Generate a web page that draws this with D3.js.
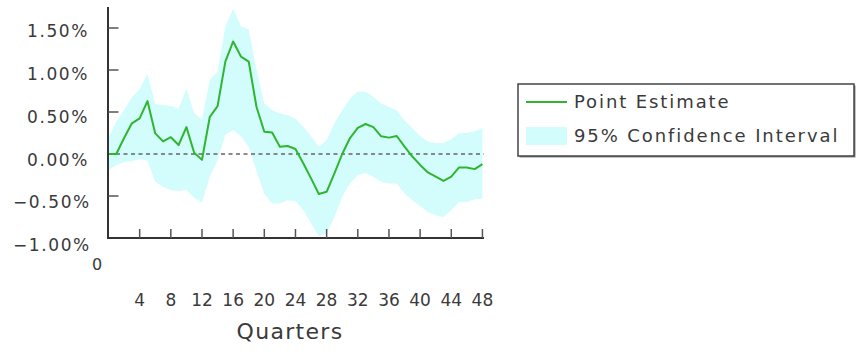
<!DOCTYPE html>
<html>
<head>
<meta charset="utf-8">
<script src="https://cdn.jsdelivr.net/npm/d3@7"></script>
<style>
  body { margin: 0; background: #fff; }
  text { font-family: "DejaVu Sans", sans-serif; fill: #3a3a3a; }
</style>
</head>
<body>
<svg id="chart" width="859" height="352"></svg>
<script>

// quarters 0..48
var quarters = d3.range(0, 49);

// point estimate (%)
var estimate = [0.0, 0.0, 0.19, 0.365, 0.425, 0.63, 0.245, 0.15, 0.20, 0.107,
  0.32, 0.015, -0.07, 0.44, 0.57, 1.10, 1.34, 1.16, 1.10, 0.56,
  0.265, 0.255, 0.087, 0.095, 0.06, -0.11, -0.29, -0.476, -0.45, -0.23,
  0.0, 0.19, 0.31, 0.357, 0.32, 0.21, 0.195, 0.214, 0.087, -0.03,
  -0.13, -0.22, -0.27, -0.32, -0.27, -0.16, -0.16, -0.18, -0.12];

// 95% band (%)
var upper = [0.20, 0.385, 0.52, 0.675, 0.77, 0.95, 0.595, 0.58, 0.57, 0.54,
  0.78, 0.485, 0.41, 0.88, 0.98, 1.52, 1.73, 1.52, 1.48, 1.0,
  0.60, 0.52, 0.485, 0.46, 0.42, 0.325, 0.21, 0.087, 0.167, 0.365,
  0.52, 0.66, 0.74, 0.74, 0.68, 0.60, 0.56, 0.52, 0.40, 0.31,
  0.21, 0.15, 0.13, 0.13, 0.175, 0.246, 0.25, 0.27, 0.31];

var lower = [-0.19, -0.13, -0.095, -0.085, -0.06, -0.08, -0.33, -0.39, -0.43, -0.44,
  -0.43, -0.52, -0.58, -0.27, -0.07, 0.23, 0.285, 0.21, 0.087, -0.2,
  -0.47, -0.59, -0.59, -0.55, -0.56, -0.67, -0.82, -0.98, -0.94, -0.75,
  -0.51, -0.35, -0.25, -0.23, -0.27, -0.33, -0.35, -0.35, -0.47, -0.55,
  -0.62, -0.69, -0.73, -0.75, -0.67, -0.57, -0.57, -0.54, -0.53];

var yTicks = [1.5, 1.0, 0.5, 0.0, -0.5, -1.0];
var yTickLabels = ["1.50%", "1.00%", "0.50%", "0.00%", "\u22120.50%", "\u22121.00%"];
var xTicks = [4, 8, 12, 16, 20, 24, 28, 32, 36, 40, 44, 48];
var legendLabels = ["Point Estimate", "95% Confidence Interval"];

var svg = d3.select("#chart");

var x = d3.scaleLinear().domain([0, 48.2]).range([108.5, 484]);
var y = d3.scaleLinear().domain([-1, 1.75]).range([238, 7]);
// tick labels sit a little off the ticks in the original
var yLab = d3.scaleLinear().domain([-1, 1.5]).range([245, 31]);

var pts = quarters.map(function(q, i){
  return { q: q, est: estimate[i], lo: lower[i], hi: upper[i] };
});

// confidence band
svg.append("path")
   .datum(pts)
   .attr("fill", "#d3fcfc")
   .attr("d", d3.area()
     .x(function(d){ return x(d.q); })
     .y0(function(d){ return y(d.lo); })
     .y1(function(d){ return y(d.hi); }));

// zero line
svg.append("line")
   .attr("x1", x(0)).attr("x2", x(48.2))
   .attr("y1", y(0)).attr("y2", y(0))
   .attr("stroke", "#666")
   .attr("stroke-width", 1.5)
   .attr("stroke-dasharray", "4,3.5");

// point estimate
svg.append("path")
   .datum(pts)
   .attr("fill", "none")
   .attr("stroke", "#2fb52f")
   .attr("stroke-width", 2)
   .attr("stroke-linejoin", "round")
   .attr("d", d3.line()
     .x(function(d){ return x(d.q); })
     .y(function(d){ return y(d.est); }));

// axes
svg.append("line")
   .attr("x1", x(0) - 0.5).attr("x2", x(0) - 0.5)
   .attr("y1", y(1.75)).attr("y2", y(-1) + 1)
   .attr("stroke", "#333").attr("stroke-width", 2);
svg.append("line")
   .attr("x1", x(0) - 1.5).attr("x2", x(48.2))
   .attr("y1", y(-1)).attr("y2", y(-1))
   .attr("stroke", "#333").attr("stroke-width", 2);

svg.selectAll(".ytick")
   .data(yTicks.filter(function(v){ return v > -1 && v !== 0; }))
   .enter().append("line")
   .attr("x1", x(0)).attr("x2", x(0) + 10)
   .attr("y1", function(v){ return y(v); })
   .attr("y2", function(v){ return y(v); })
   .attr("stroke", "#555").attr("stroke-width", 1.5);

svg.selectAll(".xtick")
   .data(xTicks)
   .enter().append("line")
   .attr("x1", function(q){ return x(q); })
   .attr("x2", function(q){ return x(q); })
   .attr("y1", y(-1)).attr("y2", y(-1) - 9)
   .attr("stroke", "#555").attr("stroke-width", 1.5);

// y labels: digits start at a common left edge, minus hangs out
svg.selectAll(".ylab")
   .data(yTicks)
   .enter().append("text")
   .attr("x", function(v){ return v < 0 ? 13 : 27; })
   .attr("y", function(v){ return yLab(v); })
   .attr("dy", "0.36em")
   .style("font-size", "17px")
   .style("letter-spacing", "1.6px")
   .text(function(v, i){ return yTickLabels[i]; });

// x labels
svg.append("text")
   .attr("x", 97).attr("y", 264).attr("dy", "0.36em")
   .attr("text-anchor", "middle")
   .style("font-size", "16px")
   .text("0");

svg.selectAll(".xlab")
   .data(xTicks)
   .enter().append("text")
   .attr("x", function(q){ return x(q); })
   .attr("y", 300).attr("dy", "0.36em")
   .attr("text-anchor", "middle")
   .style("font-size", "17px")
   .text(function(q){ return q; });

svg.append("text")
   .attr("x", 290).attr("y", 331).attr("dy", "0.36em")
   .attr("text-anchor", "middle")
   .style("font-size", "22px")
   .style("letter-spacing", "1.3px")
   .text("Quarters");

// legend
var lg = svg.append("g");
lg.append("rect")
  .attr("x", 519.5).attr("y", 85.5).attr("width", 336).attr("height", 72)
  .attr("fill", "#888");
lg.append("rect")
  .attr("x", 518).attr("y", 84).attr("width", 336).attr("height", 72)
  .attr("fill", "#fff").attr("stroke", "#444").attr("stroke-width", 1.5);
lg.append("line")
  .attr("x1", 526).attr("x2", 567).attr("y1", 102).attr("y2", 102)
  .attr("stroke", "#2fb52f").attr("stroke-width", 2);
lg.append("rect")
  .attr("x", 526).attr("y", 127).attr("width", 41).attr("height", 18)
  .attr("fill", "#d3fcfc");
lg.selectAll(".leg")
  .data(legendLabels)
  .enter().append("text")
  .attr("x", 574)
  .attr("y", function(d, i){ return 102 + i * 34; })
  .attr("dy", "0.36em")
  .style("font-size", "18px")
  .style("letter-spacing", "1.9px")
  .text(function(d){ return d; });

</script>
</body>
</html>
